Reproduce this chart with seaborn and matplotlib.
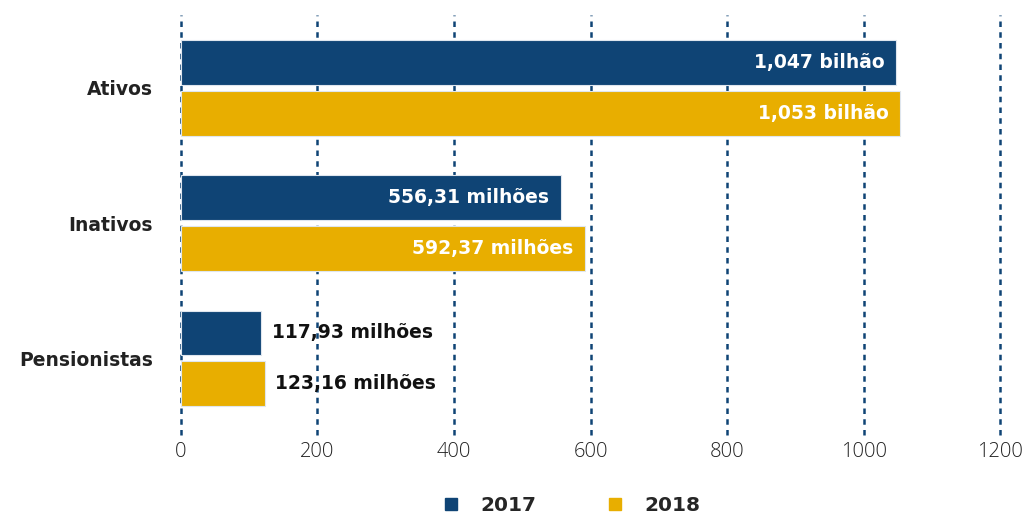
import pandas as pd
import seaborn as sns
import matplotlib.pyplot as plt

# Dados
categorias = ['Ativos', 'Inativos', 'Pensionistas']
valores_2017 = [1047, 556.31, 117.93]
valores_2018 = [1053, 592.37, 123.16]
rotulos_2017 = ['1,047 bilhão', '556,31 milhões', '117,93 milhões']
rotulos_2018 = ['1,053 bilhão', '592,37 milhões', '123,16 milhões']
anos = ['2017', '2018']
xticks = [0, 200, 400, 600, 800, 1000, 1200]

df = pd.DataFrame({
    'categoria': categorias * 2,
    'valor': valores_2017 + valores_2018,
    'ano': [anos[0]] * 3 + [anos[1]] * 3,
    'rotulo': rotulos_2017 + rotulos_2018,
})

sns.set_style('white')
plt.rcParams['font.family'] = ['DejaVu Sans']

cores = {'2017': '#0f4475', '2018': '#e8ae00'}

fig = plt.figure(figsize=(10.27, 5.15), dpi=100)
ax = fig.add_axes([0.176, 0.155, 0.798, 0.816])

sns.barplot(data=df, x='valor', y='categoria', hue='ano', palette=cores,
            orient='h', width=0.75, gap=0.12, saturation=1, ax=ax, zorder=3,
            edgecolor='#dfe6ee', linewidth=0.8)

# Grade vertical pontilhada
for v in xticks:
    ax.axvline(v, color='#0f4475', linestyle=(0, (2.2, 2.1)), linewidth=1.8,
               zorder=1, clip_on=False)

ax.set_xlim(0, 1200)
ax.set_ylim(2.57, -0.54)
ax.set_xticks(xticks)
ax.set_xticklabels([str(t) for t in xticks], fontsize=14.5, color='#222222',
                   family='Open Sans', fontweight='light')
ax.tick_params(axis='x', length=0, pad=5)
ax.tick_params(axis='y', length=0, pad=20)
for lbl in ax.get_yticklabels():
    lbl.set_fontsize(13.5)
    lbl.set_fontweight('bold')
    lbl.set_color('#222222')
ax.set_xlabel('')
ax.set_ylabel('')
for s in ax.spines.values():
    s.set_visible(False)

# Rótulos das barras
for cont, rotulos in zip(ax.containers, [rotulos_2017, rotulos_2018]):
    for barra, txt in zip(cont, rotulos):
        w = barra.get_width()
        yc = barra.get_y() + barra.get_height() / 2
        if w > 300:
            ax.text(w - 17, yc, txt, ha='right', va='center', color='white',
                    fontsize=13.5, fontweight='bold', zorder=5)
        else:
            ax.text(w + 15, yc, txt, ha='left', va='center', color='#111111',
                    fontsize=13.5, fontweight='bold', zorder=5)

# Legenda
ax.legend_.remove()
handles = [plt.Line2D([], [], marker='s', linestyle='', markersize=9, color=cores[a]) for a in anos]
fig.legend(handles, anos, loc='lower center', bbox_to_anchor=(0.551, -0.035), ncol=2,
           frameon=False, prop={'weight': 'bold', 'size': 14.5}, columnspacing=2.9,
           handletextpad=0.45)

plt.savefig('out.png', dpi=100)
